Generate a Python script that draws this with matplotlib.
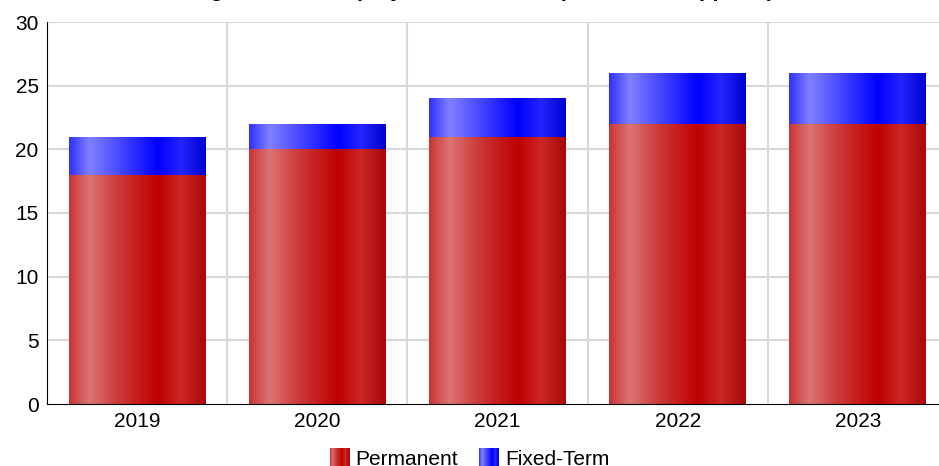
import numpy as np
import matplotlib
matplotlib.use("Agg")
import matplotlib.pyplot as plt
from matplotlib.colors import LinearSegmentedColormap
from matplotlib.patches import Patch, Rectangle
from matplotlib.legend_handler import HandlerBase

plt.rcParams['font.family'] = ['Liberation Sans', 'DejaVu Sans']

years = ['2019', '2020', '2021', '2022', '2023']
permanent = [18, 20, 21, 22, 22]
fixed_term = [3, 2, 3, 4, 4]

red_cmap = LinearSegmentedColormap.from_list('red', [
    (0.0, '#c83434'), (0.15, '#dc7474'), (0.35, '#cc3c3c'),
    (0.65, '#c00000'), (0.82, '#cc2626'), (1.0, '#a80808')])
blue_cmap = LinearSegmentedColormap.from_list('blue', [
    (0.0, '#3030ff'), (0.15, '#8080ff'), (0.4, '#4040ff'),
    (0.65, '#0000ff'), (0.82, '#2424ff'), (1.0, '#0000d0')])

fig = plt.figure(figsize=(9.39, 4.66), dpi=100)
ax = fig.add_axes([47/939, 1 - 404/466, 901/939, 382/466])

x = np.arange(len(years))
w = 0.76
grad = np.linspace(0, 1, 256).reshape(1, -1)


def gradient_bars(bars, cmap):
    for b in bars:
        b.set_facecolor('none')
        b.set_edgecolor('none')
        x0, y0 = b.get_x(), b.get_y()
        im = ax.imshow(grad, cmap=cmap, aspect='auto', interpolation='bicubic',
                       extent=[x0, x0 + b.get_width(), y0, y0 + b.get_height()],
                       zorder=2)
        im.set_clip_path(b)


class GradHandler(HandlerBase):
    def __init__(self, cmap):
        super().__init__()
        self.cmap = cmap

    def create_artists(self, legend, orig_handle, xdescent, ydescent,
                       width, height, fontsize, trans):
        n = 20
        arts = []
        for i in range(n):
            r = Rectangle((-xdescent + i * width / n, -ydescent), width / n + 0.3,
                          height, facecolor=self.cmap((i + 0.5) / n),
                          edgecolor='none', transform=trans)
            arts.append(r)
        return arts


b1 = ax.bar(x, permanent, w, zorder=2)
b2 = ax.bar(x, fixed_term, w, bottom=permanent, zorder=2)
gradient_bars(b1, red_cmap)
gradient_bars(b2, blue_cmap)

ax.set_xlim(-0.5, len(years) - 0.5)
ax.set_ylim(0, 30)
ax.set_yticks(range(0, 31, 5))
ax.set_xticks(x)
ax.set_xticklabels(years)
ax.tick_params(length=0, labelsize=15, pad=6)
ax.set_axisbelow(True)
for yv in range(5, 31, 5):
    ax.axhline(yv, color='#d8d8d8', lw=1.5, zorder=0)
for xv in np.arange(0.5, len(years) - 0.5, 1):
    ax.axvline(xv, color='#d8d8d8', lw=1.5, zorder=0)
for s in ['top', 'right']:
    ax.spines[s].set_visible(False)
ax.spines['left'].set_color('black')
ax.spines['bottom'].set_color('black')

fig.text(0.492, 1 + 4/466, 'Average Annual Employees 2019-2023 (Headcount approx.)',
         ha='center', va='baseline', fontsize=16, fontweight='bold')

h_perm = Patch(label='Permanent')
h_fixed = Patch(label='Fixed-Term')
fig.legend(handles=[h_perm, h_fixed], loc='upper center',
           bbox_to_anchor=(0.5, 1 - 438/466), ncol=2, frameon=False, fontsize=15,
           handlelength=0.95, handleheight=0.95, handletextpad=0.3,
           columnspacing=1.0, borderpad=0,
           handler_map={h_perm: GradHandler(red_cmap), h_fixed: GradHandler(blue_cmap)})

fig.savefig('out.png', dpi=100)
